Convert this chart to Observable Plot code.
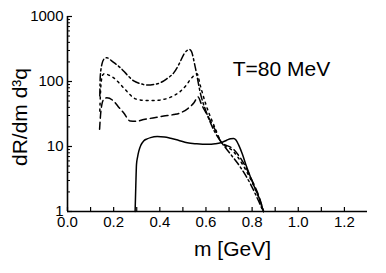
<!DOCTYPE html>
<html>
<head>
<meta charset="utf-8">
<script src="https://cdn.jsdelivr.net/npm/d3@7"></script>
<script src="https://cdn.jsdelivr.net/npm/@observablehq/plot@0.6"></script>
<style>
  html, body { margin: 0; padding: 0; background: #fff; }
  svg { font-family: "Liberation Sans", Arial, Helvetica, sans-serif; }
</style>
</head>
<body>
<div id="chart"></div>
<script>
// ---- data ----
const solidM = [0.293, 0.296, 0.299, 0.304, 0.309, 0.318, 0.330, 0.345, 0.360, 0.389, 0.420, 0.447, 0.480, 0.519, 0.560, 0.606, 0.640, 0.664, 0.690, 0.707, 0.720, 0.730, 0.742, 0.758, 0.775, 0.794, 0.812, 0.830, 0.849];
const solidR = [1.0, 2.5, 5.3, 7.0, 8.5, 10.5, 12.2, 13.1, 13.7, 14.2, 14.0, 13.4, 12.5, 11.4, 11.0, 10.8, 11.0, 11.4, 12.5, 13.2, 13.3, 12.6, 10.5, 7.6, 5.0, 3.3, 2.3, 1.63, 1.0];

const dashM = [0.139, 0.143, 0.149, 0.157, 0.170, 0.200, 0.220, 0.243, 0.272, 0.300, 0.330, 0.370, 0.417, 0.460, 0.490, 0.520, 0.548, 0.566, 0.580, 0.600, 0.640, 0.664, 0.720, 0.760, 0.800, 0.830, 0.850];
const dashR = [18.4, 30, 44.6, 53, 56, 50, 41, 33, 24.7, 24.5, 26, 27.5, 29.4, 31, 33, 38, 47, 58, 45, 33, 18, 12, 9.0, 5.8, 3.0, 1.7, 1.0];

const dotM = [0.140, 0.145, 0.152, 0.160, 0.180, 0.200, 0.220, 0.243, 0.265, 0.287, 0.315, 0.345, 0.380, 0.417, 0.450, 0.490, 0.515, 0.533, 0.550, 0.562, 0.575, 0.600, 0.640, 0.664, 0.720, 0.760, 0.800, 0.830, 0.849];
const dotR = [35, 90, 125, 132, 125, 114, 98, 80, 66, 56, 52, 51, 51, 53, 58, 71, 88, 108, 125, 130, 88, 44, 19, 12, 8.3, 5.2, 2.8, 1.6, 1.0];

const dashDotM = [0.140, 0.142, 0.150, 0.157, 0.171, 0.190, 0.210, 0.229, 0.260, 0.287, 0.315, 0.345, 0.375, 0.403, 0.430, 0.461, 0.485, 0.504, 0.518, 0.528, 0.537, 0.554, 0.577, 0.600, 0.636, 0.664, 0.707, 0.751, 0.794, 0.830, 0.848];
const dashDotR = [60, 120, 190, 219, 232, 210, 185, 163, 125, 102, 93, 88, 90, 96, 110, 137, 190, 262, 300, 312, 290, 163, 63.5, 35, 17.3, 12, 7.6, 4.7, 2.6, 1.4, 1.0];

const xTicks = [0, 0.1, 0.2, 0.3, 0.4, 0.5, 0.6, 0.7, 0.8, 0.9, 1.0, 1.1, 1.2];
const xLabelTicks = [0, 0.2, 0.4, 0.6, 0.8, 1.0, 1.2];
const yMajorTicks = [1, 10, 100, 1000];
const yMinorTicks = [2,3,4,5,6,7,8,9,20,30,40,50,60,70,80,90,200,300,400,500,600,700,800,900];
const xLabel = "m [GeV]";
const yLabel = "dR/dm d³q";
const annotation = "T=80 MeV";

const toRows = (ms, rs) => ms.map((m, i) => ({m, r: rs[i]}));

const lineOpts = {x: "m", y: "r", stroke: "black", strokeWidth: 1.5, curve: "monotone-x"};

const chart = Plot.plot({
  width: 386,
  height: 273,
  marginLeft: 67,
  marginRight: 19,
  marginTop: 16,
  marginBottom: 62,
  style: {background: "white", color: "black", fontFamily: "Liberation Sans, Arial, sans-serif"},
  x: {domain: [0, 1.3]},
  y: {type: "log", domain: [1, 1000]},
  marks: [
    // x axis: inward ticks every 0.1, labels every 0.2
    Plot.axisX({ticks: xTicks, tickSize: -4, tickFormat: () => "", label: null, strokeWidth: 1.2}),
    Plot.axisX({ticks: xLabelTicks, tickSize: 0, tickPadding: 5, tickFormat: d => d.toFixed(1), label: null, fontSize: 15}),
    // y axis: inward major and minor ticks
    Plot.axisY({ticks: yMinorTicks, tickSize: -3, tickFormat: () => "", label: null, strokeWidth: 1}),
    Plot.axisY({ticks: yMajorTicks, tickSize: -5, tickPadding: 9, tickFormat: d => String(d), label: null, fontSize: 15, strokeWidth: 1.2}),
    Plot.ruleX([0], {strokeWidth: 1.6}),
    Plot.ruleY([1], {strokeWidth: 1.6}),
    Plot.line(toRows(solidM, solidR), {...lineOpts}),
    Plot.line(toRows(dashM, dashR), {...lineOpts, strokeDasharray: "7,4"}),
    Plot.line(toRows(dotM, dotR), {...lineOpts, strokeDasharray: "2,4"}),
    Plot.line(toRows(dashDotM, dashDotR), {...lineOpts, strokeDasharray: "7,3,2,3"}),
    Plot.text([annotation], {x: 0.716, y: 121, text: d => d, textAnchor: "start", lineAnchor: "bottom", fontSize: 21}),
    Plot.text([xLabel], {frameAnchor: "bottom", text: d => d, dx: 15, dy: 44, fontSize: 21}),
    Plot.text([yLabel], {frameAnchor: "left", text: d => d, textAnchor: "middle", rotate: -90, dx: -47, dy: 3, fontSize: 21})
  ]
});
document.getElementById("chart").appendChild(chart);
</script>
</body>
</html>
